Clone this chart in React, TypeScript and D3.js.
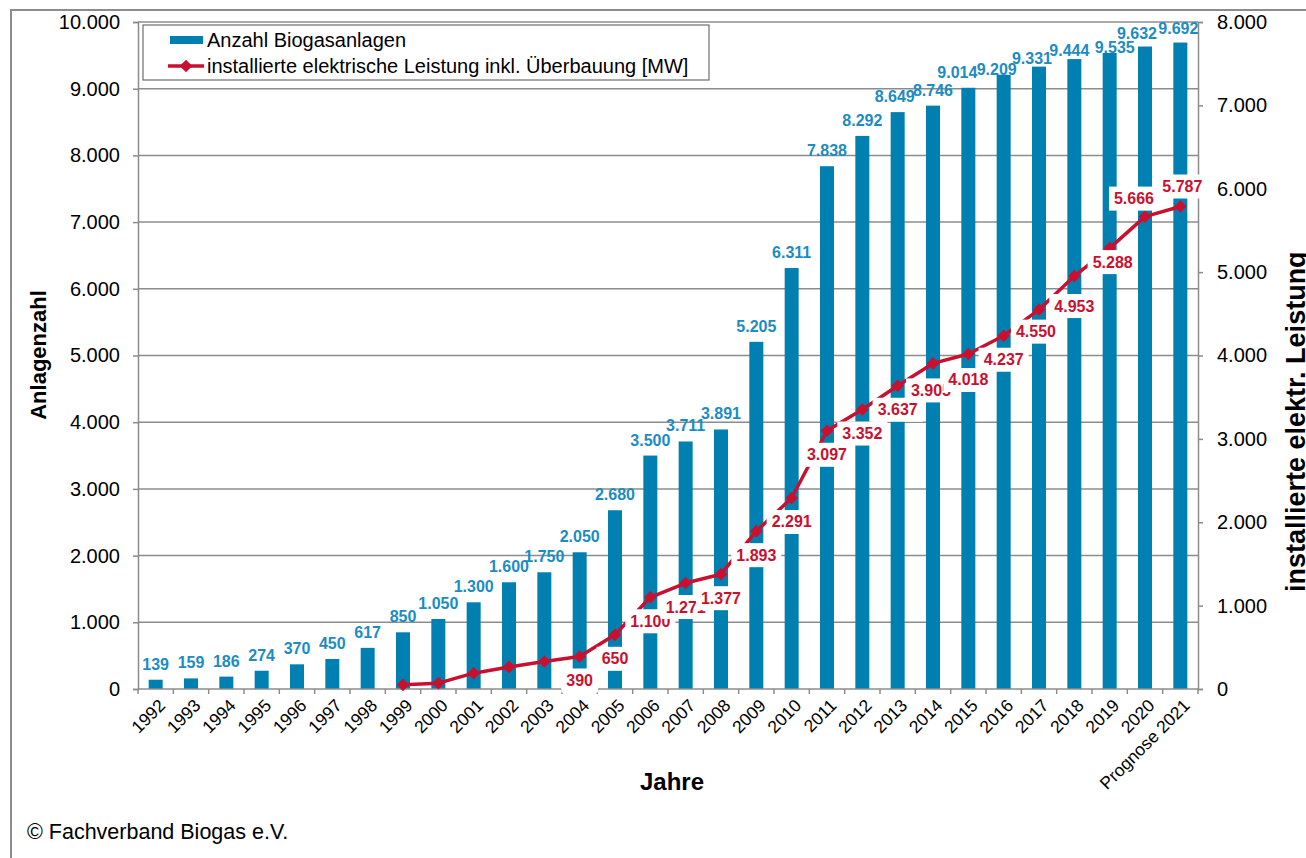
import React, { useRef, useEffect } from 'react';
import * as d3 from 'd3';

const years = ["1992", "1993", "1994", "1995", "1996", "1997", "1998", "1999", "2000", "2001",
    "2002", "2003", "2004", "2005", "2006", "2007", "2008", "2009", "2010", "2011",
    "2012", "2013", "2014", "2015", "2016", "2017", "2018", "2019", "2020", "Prognose 2021"];

const plantCounts = [139, 159, 186, 274, 370, 450, 617, 850, 1050, 1300,
    1600, 1750, 2050, 2680, 3500, 3711, 3891, 5205, 6311, 7838,
    8292, 8649, 8746, 9014, 9209, 9331, 9444, 9535, 9632, 9692];

const powerMW: (number | null)[] = [null, null, null, null, null, null, null, 50, 70, 190,
    265, 330, 390, 650, 1100, 1271, 1377, 1893, 2291, 3097,
    3352, 3637, 3905, 4018, 4237, 4550, 4953, 5288, 5666, 5787];

const leftTicks = [0, 1000, 2000, 3000, 4000, 5000, 6000, 7000, 8000, 9000, 10000];
const rightTicks = [0, 1000, 2000, 3000, 4000, 5000, 6000, 7000, 8000];

const powerLabelFrom = "2004";

// hand placed label nudges like in the original sheet
const barLabelNudge: Record<string, [number, number]> = {
    "2013": [-3, 0],
    "2015": [-11, 0],
    "2016": [-7, 10],
    "2017": [-7, 7],
    "2018": [-5, 7],
    "2019": [5, 10],
    "2020": [-8, 2],
    "Prognose 2021": [-2, 1],
};
const powerLabelNudge: Record<string, [number, number]> = {
    "2014": [-2, 27],
    "2015": [0, 26],
    "2017": [-3, 22],
    "2018": [0, 30],
    "2019": [3, 14],
    "2020": [-11, -18],
    "Prognose 2021": [2, -20],
};

const BAR = "#0080b1";
const BAR_LABEL = "#1c8cc3";
const RED = "#c9102f";
const GRID = "#8c8c8c";
const FONT = "'Liberation Sans', Arial, sans-serif";

export default function App() {
    const svgRef = useRef<SVGSVGElement>(null);

    useEffect(() => {
        if (!svgRef.current) return;
        const svg = d3.select(svgRef.current);
        svg.selectAll("*").remove();

        const plot = { left: 138, right: 1198, top: 22, bottom: 689 };

        const de = d3.formatLocale({ decimal: ",", thousands: ".", grouping: [3], currency: ["", ""] });
        const fmt = de.format(",d");

        const x = d3.scaleBand().domain(years).range([plot.left, plot.right]).padding(0);
        const bw = x.bandwidth();
        const cx = (d: string) => x(d)! + bw / 2;
        const y = d3.scaleLinear().domain([0, 10000]).range([plot.bottom, plot.top]);
        const y2 = d3.scaleLinear().domain([0, 8000]).range([plot.bottom, plot.top]);

        svg.append("rect")
            .attr("width", 1306).attr("height", 858).attr("fill", "#fff");

        // outer frame
        svg.append("rect")
            .attr("x", 11).attr("y", 10).attr("width", 1320).attr("height", 880)
            .attr("fill", "none").attr("stroke", GRID).attr("stroke-width", 2);

        // Grid
        svg.append("g")
            .selectAll("line")
            .data(leftTicks.filter(t => t > 0))
            .enter()
            .append("line")
            .attr("x1", plot.left).attr("x2", plot.right)
            .attr("y1", d => y(d)).attr("y2", d => y(d))
            .attr("stroke", GRID).attr("stroke-width", 1.5);

        // Bars
        svg.append("g")
            .selectAll("rect")
            .data(years)
            .enter()
            .append("rect")
            .attr("x", d => cx(d) - 7)
            .attr("width", 14)
            .attr("y", (d, i) => y(plantCounts[i]))
            .attr("height", (d, i) => plot.bottom - y(plantCounts[i]))
            .attr("fill", BAR);

        // Axes
        const leftAxis = svg.append("g")
            .attr("transform", `translate(${plot.left},0)`)
            .call(d3.axisLeft(y).tickValues(leftTicks).tickSize(5).tickPadding(13).tickFormat(d => fmt(+d)));
        const rightAxis = svg.append("g")
            .attr("transform", `translate(${plot.right},0)`)
            .call(d3.axisRight(y2).tickValues(rightTicks).tickSize(5).tickPadding(14).tickFormat(d => fmt(+d)));
        [leftAxis, rightAxis].forEach(g => {
            g.select(".domain").attr("stroke", GRID).attr("stroke-width", 1.5);
            g.selectAll(".tick line").attr("stroke", GRID).attr("stroke-width", 1.5);
            g.selectAll(".tick text")
                .style("font-family", FONT).style("font-size", "20px").attr("fill", "#000");
        });

        // x axis
        const xAxis = svg.append("g");
        xAxis.append("line")
            .attr("x1", plot.left).attr("x2", plot.right)
            .attr("y1", plot.bottom).attr("y2", plot.bottom)
            .attr("stroke", GRID).attr("stroke-width", 1.5);
        xAxis.selectAll(".xtick")
            .data([...years.map(d => x(d)!), plot.right])
            .enter()
            .append("line")
            .attr("x1", d => d).attr("x2", d => d)
            .attr("y1", plot.bottom).attr("y2", plot.bottom + 5)
            .attr("stroke", GRID).attr("stroke-width", 1.5);
        xAxis.selectAll(".xlabel")
            .data(years)
            .enter()
            .append("text")
            .attr("transform", d => `translate(${cx(d) + 2},${plot.bottom + 9}) rotate(-45)`)
            .attr("text-anchor", "end")
            .attr("dy", "0.7em")
            .style("font-family", FONT).style("font-size", "17.5px")
            .text(d => d);

        // Bar labels
        svg.append("g")
            .selectAll("text")
            .data(years)
            .enter()
            .append("text")
            .attr("x", d => cx(d) + (barLabelNudge[d] || [0, 0])[0])
            .attr("y", (d, i) => y(plantCounts[i]) - 10 + (barLabelNudge[d] || [0, 0])[1])
            .attr("text-anchor", "middle")
            .style("font-family", FONT).style("font-size", "16px").style("font-weight", "bold")
            .attr("fill", BAR_LABEL)
            .text((d, i) => fmt(plantCounts[i]));

        // Line
        const pts = years.map((d, i) => ({ year: d, v: powerMW[i] }));
        const line = d3.line<{ year: string, v: number | null }>()
            .defined(d => d.v != null)
            .x(d => cx(d.year))
            .y(d => y2(d.v as number));
        svg.append("path")
            .datum(pts)
            .attr("d", line)
            .attr("fill", "none")
            .attr("stroke", RED)
            .attr("stroke-width", 3.5)
            .attr("stroke-linejoin", "round");

        const diamond = d3.symbol(d3.symbolSquare, 80);
        svg.append("g")
            .selectAll("path")
            .data(pts.filter(p => p.v != null))
            .enter()
            .append("path")
            .attr("d", diamond)
            .attr("transform", d => `translate(${cx(d.year)},${y2(d.v as number)}) rotate(45)`)
            .attr("fill", RED);

        // Line labels with white boxes
        const startIdx = years.indexOf(powerLabelFrom);
        const labelG = svg.append("g");
        pts.forEach((p, i) => {
            if (i < startIdx || p.v == null) return;
            const [dx, dy] = powerLabelNudge[p.year] || [0, 24];
            const lx = cx(p.year) + dx;
            const ly = y2(p.v) + dy;
            const g = labelG.append("g");
            const rect = g.append("rect").attr("fill", "#fff");
            const t = g.append("text")
                .attr("x", lx).attr("y", ly)
                .attr("text-anchor", "middle")
                .attr("dominant-baseline", "central")
                .style("font-family", FONT).style("font-size", "16px").style("font-weight", "bold")
                .attr("fill", RED)
                .text(fmt(p.v));
            const w = (t.node() as SVGTextElement).getComputedTextLength();
            rect.attr("x", lx - w / 2 - 5).attr("y", ly - 12).attr("width", w + 10).attr("height", 24);
        });

        // Axis titles
        svg.append("text")
            .attr("transform", `translate(46,355) rotate(-90)`)
            .attr("text-anchor", "middle")
            .style("font-family", FONT).style("font-size", "22px").style("font-weight", "bold")
            .text("Anlagenzahl");
        svg.append("text")
            .attr("transform", `translate(1305,592) rotate(-90)`)
            .attr("text-anchor", "start")
            .style("font-family", FONT).style("font-size", "27px").style("font-weight", "bold")
            .text("installierte elektr. Leistung");
        svg.append("text")
            .attr("x", 672).attr("y", 790)
            .attr("text-anchor", "middle")
            .style("font-family", FONT).style("font-size", "24px").style("font-weight", "bold")
            .text("Jahre");

        // Legend
        const legend = svg.append("g");
        legend.append("rect")
            .attr("x", 143).attr("y", 25).attr("width", 566).attr("height", 55)
            .attr("fill", "#fff").attr("stroke", "#6e6e6e").attr("stroke-width", 1.2);
        legend.append("rect")
            .attr("x", 170).attr("y", 36).attr("width", 33).attr("height", 8)
            .attr("fill", BAR);
        legend.append("line")
            .attr("x1", 168).attr("x2", 204).attr("y1", 66).attr("y2", 66)
            .attr("stroke", RED).attr("stroke-width", 3.5);
        legend.append("path")
            .attr("d", diamond)
            .attr("transform", "translate(186,66) rotate(45)")
            .attr("fill", RED);
        legend.selectAll(".ltext")
            .data(["Anzahl Biogasanlagen", "installierte elektrische Leistung inkl. Überbauung [MW]"])
            .enter()
            .append("text")
            .attr("x", 207)
            .attr("y", (d, i) => 40 + i * 26)
            .attr("dominant-baseline", "central")
            .style("font-family", FONT).style("font-size", "20px")
            .text(d => d);

        svg.append("text")
            .attr("x", 27).attr("y", 839)
            .style("font-family", FONT).style("font-size", "21.5px")
            .text("© Fachverband Biogas e.V.");
    }, []);

    return (
        <div style={{ position: "absolute", left: 0, top: 0 }}>
            <svg ref={svgRef} width={1306} height={858} style={{ display: "block" }} />
        </div>
    );
}
